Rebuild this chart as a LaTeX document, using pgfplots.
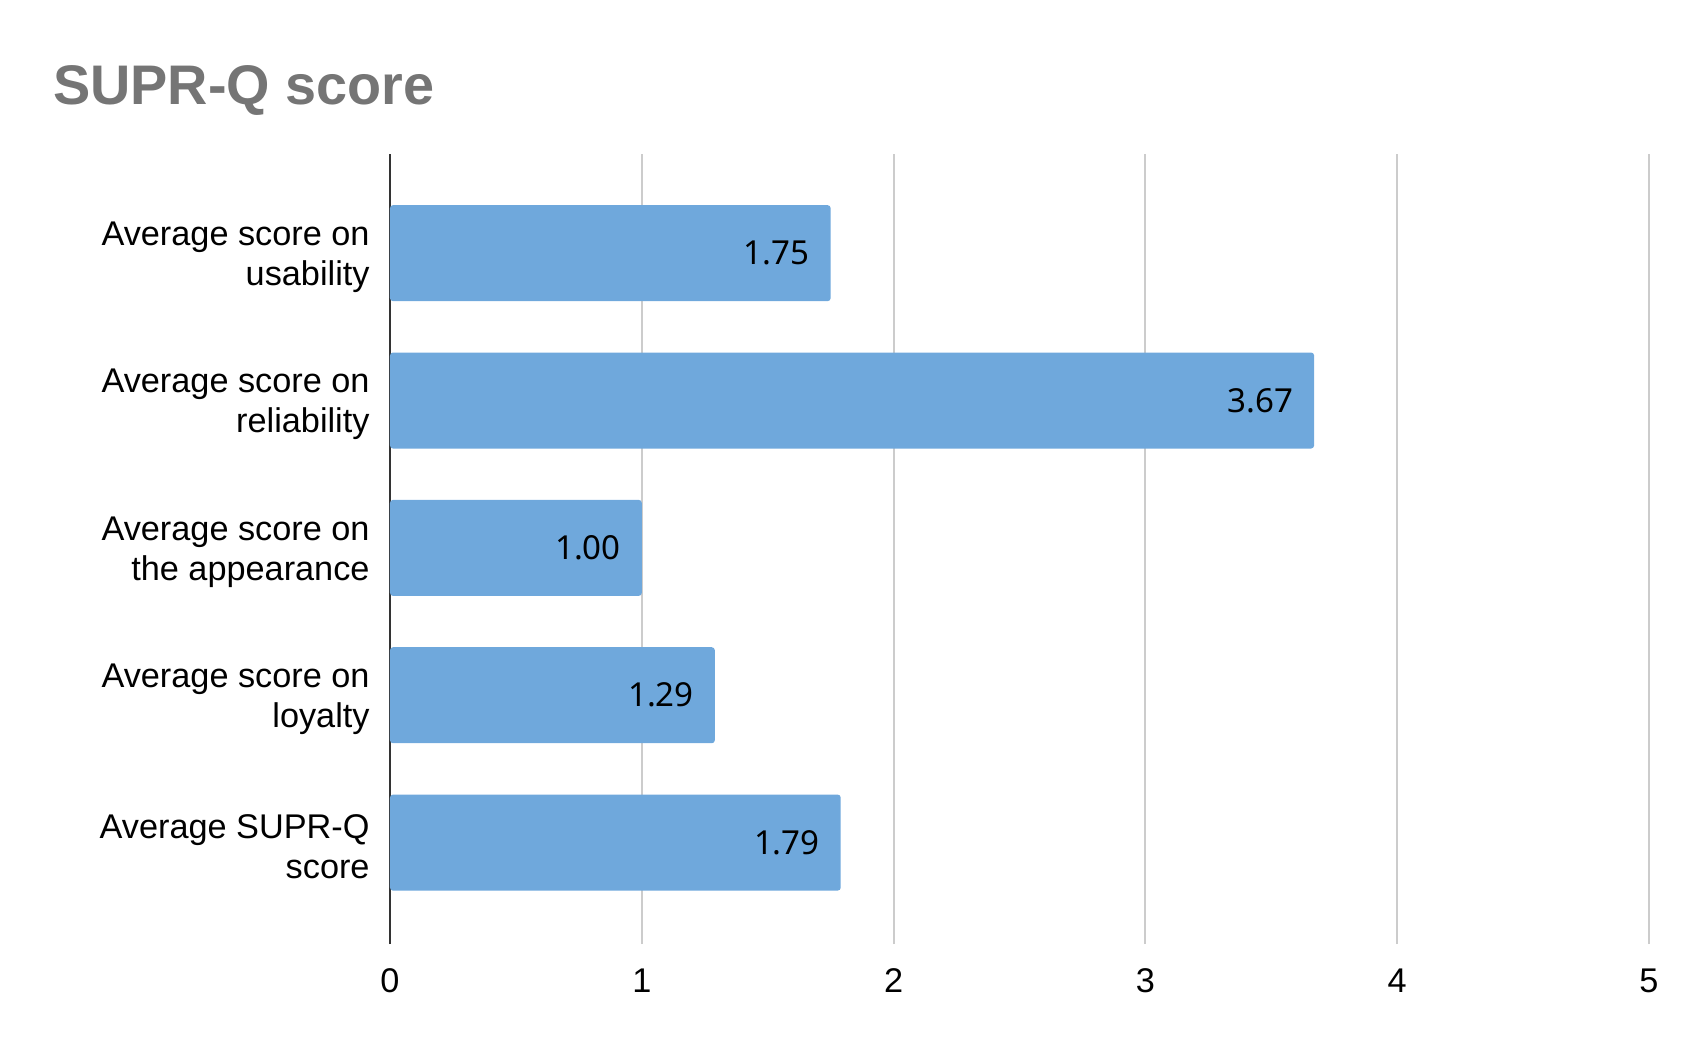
\documentclass[border=0pt]{standalone}
\usepackage{fontspec}
\setmainfont{Liberation Sans}
\newfontfamily\valfont{Noto Sans}
\usepackage{pgfplots}
\pgfplotsset{compat=1.18}
\definecolor{barblue}{HTML}{6FA8DC}
\definecolor{gridgray}{HTML}{CCCCCC}
\definecolor{axisgray}{HTML}{333333}
\definecolor{titlegray}{HTML}{757575}

\begin{document}
\begin{tikzpicture}
\begin{axis}[
    scale only axis,
    width=629.5bp, height=395bp,
    xbar, bar width=48bp,
    xmin=0, xmax=5,
    ymin=-0.688, ymax=4.673,
    xtick={0,1,2,3,4,5},
    ytick={0,1,2,3,4},
    yticklabels={{Average SUPR-Q\\score},
                 {Average score on\\loyalty},
                 {Average score on\\the appearance},
                 {Average score on\\reliability},
                 {Average score on\\usability}},
    axis line style={draw=none},
    major tick length=0pt,
    xmajorgrids,
    major grid style={draw=gridgray, line width=1bp},
    extra x ticks={0},
    extra x tick labels={},
    extra x tick style={xmajorgrids, major grid style={draw=axisgray, line width=1bp}},
    /pgf/number format/assume math mode=true,
    tick label style={font=\fontsize{17.2}{20}\selectfont, text=black},
    yticklabel style={align=right, xshift=-6.7bp, yshift=-2bp},
    xticklabel style={yshift=-8.7bp},
    title={SUPR-Q score},
    title style={font=\fontsize{28}{30}\selectfont\bfseries, text=titlegray,
                 anchor=base west, at={(0,1)}, xshift=-172bp, yshift=19bp},
    nodes near coords,
    point meta=explicit symbolic,
    every node near coord/.append style={anchor=east, xshift=-7bp,
                 font=\valfont\fontsize{16.6}{18}\selectfont, text=black},
]
\addplot[fill=barblue, draw=none, rounded corners=1.5bp] coordinates {
    (1.79,0) [1.79]
    (1.29,1) [1.29]
    (1.00,2) [1.00]
    (3.67,3) [3.67]
    (1.75,4) [1.75]
};
\end{axis}
\pgfresetboundingbox
\path (-195bp,-53.5bp) rectangle (655bp,472bp);
\end{tikzpicture}
\end{document}
